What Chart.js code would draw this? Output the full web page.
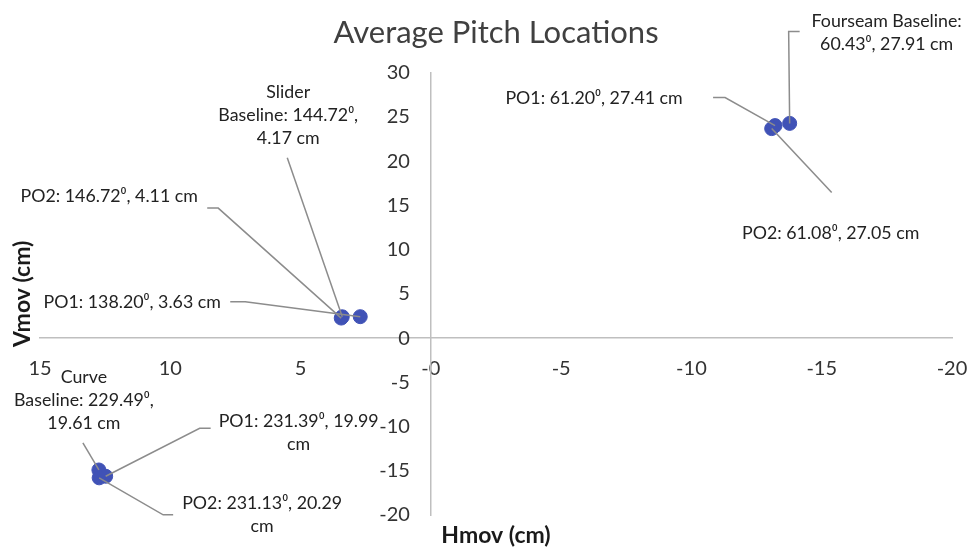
<!DOCTYPE html>
<html><head><meta charset="utf-8">
<script src="https://cdn.jsdelivr.net/npm/chart.js@4.4.1/dist/chart.umd.min.js"></script>
<style>html,body{margin:0;padding:0;background:#fff}#wrap{width:969px;height:549px;position:relative}</style>
</head><body><div id="wrap"><canvas id="c"></canvas></div>
<script>
// ---- data ----
const pitchTypes = ['Fourseam', 'Slider', 'Curve'];
const conditions = ['Baseline', 'PO1', 'PO2'];
// Hmov / Vmov (cm), order: Baseline, PO1, PO2
const fourseamHmov = [-13.77, -13.21, -13.08];
const fourseamVmov = [24.27, 24.02, 23.68];
const sliderHmov = [3.40, 2.71, 3.44];
const sliderVmov = [2.41, 2.42, 2.26];
const curveHmov = [12.74, 12.48, 12.73];
const curveVmov = [-14.91, -15.62, -15.80];
// data label texts
const fourseamLabels = [['Fourseam Baseline:', '60.43\u2070, 27.91 cm'], ['PO1: 61.20\u2070, 27.41 cm'], ['PO2: 61.08\u2070, 27.05 cm']];
const sliderLabels = [['Slider', 'Baseline: 144.72\u2070,', '4.17 cm'], ['PO1: 138.20\u2070, 3.63 cm'], ['PO2: 146.72\u2070, 4.11 cm']];
const curveLabels = [['Curve', 'Baseline: 229.49\u2070,', '19.61 cm'], ['PO1: 231.39\u2070, 19.99', 'cm'], ['PO2: 231.13\u2070, 20.29', 'cm']];
// ticks
const xTickValues = [15, 10, 5, 0, -5, -10, -15, -20];
const xTickLabels = ['15', '10', '5', '-0', '-5', '-10', '-15', '-20'];
const yTickValues = [-20, -15, -10, -5, 0, 5, 10, 15, 20, 25, 30];
const yTickLabels = ['-20', '-15', '-10', '-5', '0', '5', '10', '15', '20', '25', '30'];
const chartTitle = 'Average Pitch Locations';
const xTitle = 'Hmov (cm)';
const yTitle = 'Vmov (cm)';

// ---- label placement (pixel offsets from the point) ----
const labelLayout = [
  [ {dx: 97, dy: -102, path: [[10, -92], [-1, -92]]},
    {dx: -181, dy: -27, path: [[-62, -28], [-50, -28]]},
    {dx: 59, dy: 105, path: [[60, 64]]} ],
  [ {dx: -54, dy: -224, path: [[-55, -159]]},
    {dx: -228, dy: -14, path: [[-130, -15], [-115, -15]]},
    {dx: -232, dy: -122, path: [[-134, -110], [-123, -110]]} ],
  [ {dx: -15, dy: -93, path: [[-16, -27]]},
    {dx: 193, dy: -55, path: [[105, -48], [94, -48]]},
    {dx: 163, dy: 25, path: [[74, 37], [64, 37]]} ]
];
const allLabels = [fourseamLabels, sliderLabels, curveLabels];

const FONT = 'Lato, "Open Sans", sans-serif';
const pointColor = 'rgb(64,82,182)';
const Y_LABEL_GAP = 21;

function pts(h, v) { return h.map((x, i) => ({x: x, y: v[i]})); }

const annotatePlugin = {
  id: 'annotate',
  beforeDraw(chart) {
    // shift y tick labels left of the crossing axis line (padding is ignored for value-positioned axes)
    const s = chart.scales.y;
    const items = s.getLabelItems();
    if (!items._shifted) {
      items.forEach(it => { it.options.translation[0] -= Y_LABEL_GAP; });
      items._shifted = true;
    }
  },
  afterDatasetsDraw(chart) {
    const ctx = chart.ctx;
    ctx.save();
    ctx.strokeStyle = '#8C8C8C';
    ctx.lineWidth = 1.5;
    labelLayout.forEach((arr, d) => {
      const meta = chart.getDatasetMeta(d);
      arr.forEach((L, i) => {
        const el = meta.data[i];
        ctx.beginPath();
        ctx.moveTo(el.x + L.path[0][0], el.y + L.path[0][1]);
        for (let k = 1; k < L.path.length; k++) ctx.lineTo(el.x + L.path[k][0], el.y + L.path[k][1]);
        ctx.lineTo(el.x, el.y);
        ctx.stroke();
      });
    });
    ctx.fillStyle = '#222';
    ctx.font = '17.8px ' + FONT;
    ctx.textAlign = 'center';
    ctx.textBaseline = 'middle';
    labelLayout.forEach((arr, d) => {
      const meta = chart.getDatasetMeta(d);
      arr.forEach((L, i) => {
        const el = meta.data[i];
        allLabels[d][i].forEach((line, k) => {
          ctx.fillText(line, el.x + L.dx, el.y + L.dy + k * 23);
        });
      });
    });
    ctx.restore();
  },
  afterDraw(chart) {
    const ctx = chart.ctx, ca = chart.chartArea;
    ctx.save();
    ctx.fillStyle = '#1a1a1a';
    ctx.font = 'bold 23px ' + FONT;
    ctx.textAlign = 'center';
    ctx.textBaseline = 'middle';
    ctx.fillText(xTitle, (ca.left + ca.right) / 2, 536);
    ctx.translate(23, (ca.top + ca.bottom) / 2);
    ctx.rotate(-Math.PI / 2);
    ctx.fillText(yTitle, 0, 0);
    ctx.restore();
  }
};

new Chart(document.getElementById('c'), {
  type: 'scatter',
  data: {
    datasets: [
      {label: pitchTypes[0], data: pts(fourseamHmov, fourseamVmov)},
      {label: pitchTypes[1], data: pts(sliderHmov, sliderVmov)},
      {label: pitchTypes[2], data: pts(curveHmov, curveVmov)}
    ].map(ds => Object.assign(ds, {backgroundColor: pointColor, borderColor: pointColor, borderWidth: 1, pointRadius: 7, pointHoverRadius: 7}))
  },
  options: {
    responsive: true,
    maintainAspectRatio: false,
    animation: false,
    events: [],
    layout: {padding: {left: 40, right: 17, top: 0, bottom: 34}},
    plugins: {
      legend: {display: false},
      tooltip: {enabled: false},
      title: {display: true, text: chartTitle, color: '#404040', font: {family: FONT, size: 31, weight: 'normal'}, padding: {top: 14, bottom: 21.5}}
    },
    scales: {
      x: {
        type: 'linear', reverse: true, min: -20, max: 15, position: {y: 0},
        afterBuildTicks: s => { s.ticks = xTickValues.slice().reverse().map(v => ({value: v})); },
        grid: {display: false, drawTicks: false},
        border: {display: true, color: '#BFBFBF', width: 1.5},
        ticks: {autoSkip: false, maxRotation: 0, padding: 18, color: '#333', font: {family: FONT, size: 20},
          callback: v => xTickLabels[xTickValues.indexOf(v)]}
      },
      y: {
        type: 'linear', min: -20, max: 30, position: {x: 0},
        afterBuildTicks: s => { s.ticks = yTickValues.map(v => ({value: v})); },
        grid: {display: false, drawTicks: false},
        border: {display: true, color: '#BFBFBF', width: 1.5},
        ticks: {autoSkip: false, padding: 20, color: '#333', font: {family: FONT, size: 20},
          callback: v => yTickLabels[yTickValues.indexOf(v)]}
      }
    }
  },
  plugins: [annotatePlugin]
});
</script></body></html>
